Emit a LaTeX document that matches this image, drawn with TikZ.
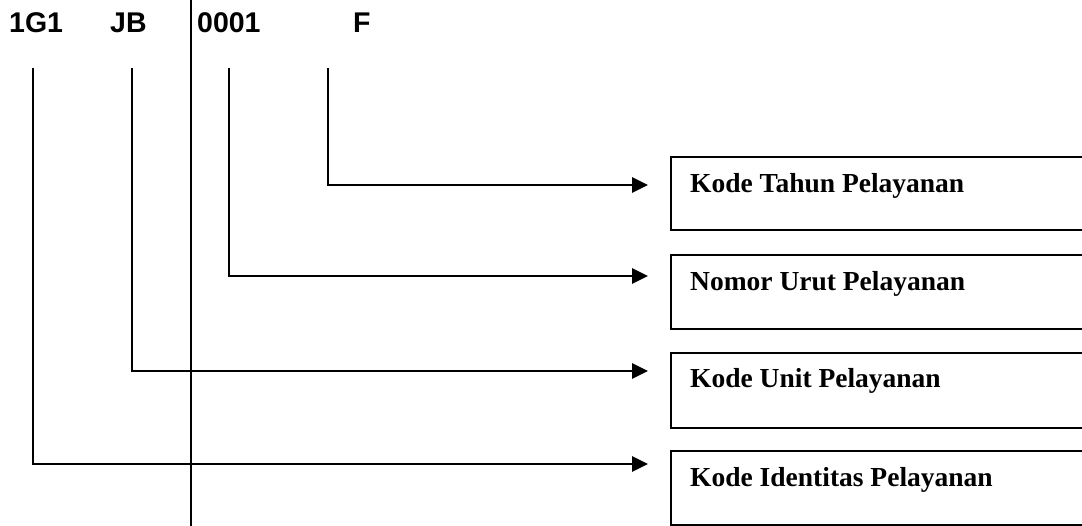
\documentclass[tikz,border=0pt]{standalone}
\usepackage{fontspec}
\setmainfont{Liberation Serif}
\newfontfamily\codefont{Liberation Sans}
\usetikzlibrary{arrows.meta}
\begin{document}
\begin{tikzpicture}[x=1pt,y=-1pt,
  codelabel/.style={anchor=base west,inner sep=0pt,font=\codefont\bfseries\fontsize{28.5}{30}\selectfont},
  boxtext/.style={anchor=base west,inner sep=0pt,font=\bfseries\fontsize{27.5}{29}\selectfont},
  codebox/.style={draw,line width=2.2pt,anchor=north west,minimum width=440pt,inner sep=0pt},
  conn/.style={line width=2.8pt,-{Triangle[length=16pt,width=15pt]}},
  divider/.style={line width=1.2pt}]
\useasboundingbox (0,0) rectangle (1082,526);
\clip (0,0) rectangle (1082,526);
% code labels
\node[codelabel] (c1) at (9,33) {1G1};
\node[codelabel] (c2) at (110,33) {JB};
\node[codelabel] (c3) at (197,33) {0001};
\node[codelabel] (c4) at (353,33) {F};
% divider
\coordinate (dtop) at (191,0);
\coordinate (dbot) at (191,526);
\draw[divider] (dtop) -- (dbot);
% boxes
\node[codebox,minimum height=73pt] (bT) at (670,156) {};
\node[codebox,minimum height=74pt] (bN) at (670,254) {};
\node[codebox,minimum height=75pt] (bU) at (670,352) {};
\node[codebox,minimum height=74pt] (bI) at (670,450) {};
\node[boxtext] (tT) at (690,193) {Kode Tahun Pelayanan};
\node[boxtext] (tN) at (690,291) {Nomor Urut Pelayanan};
\node[boxtext] (tU) at (690,388) {Kode Unit Pelayanan};
\node[boxtext] (tI) at (690,486) {Kode Identitas Pelayanan};
% connector start / end points
\coordinate (s1) at (33,68);
\coordinate (s2) at (132,68);
\coordinate (s3) at (229,68);
\coordinate (s4) at (328,68);
\coordinate (eT) at (648,185);
\coordinate (eN) at (648,276);
\coordinate (eU) at (648,371);
\coordinate (eI) at (648,464);
\draw[conn] (s4) |- (eT);
\draw[conn] (s3) |- (eN);
\draw[conn] (s2) |- (eU);
\draw[conn] (s1) |- (eI);
\end{tikzpicture}
\end{document}
